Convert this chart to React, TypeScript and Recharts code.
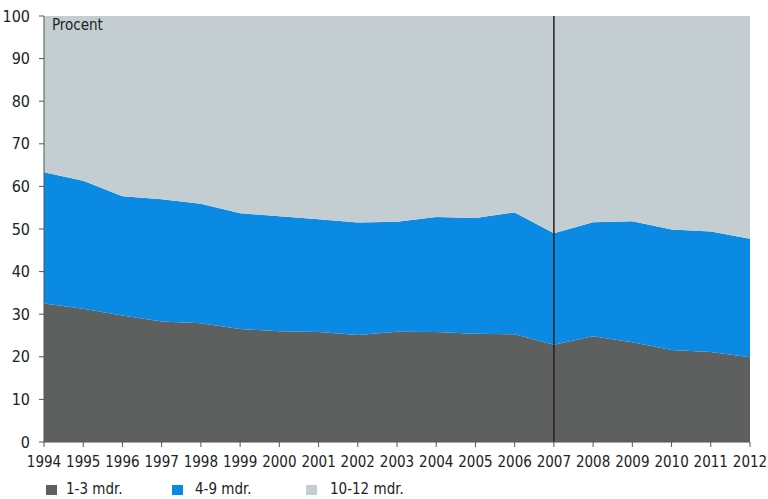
import React from 'react';
import { AreaChart, Area, XAxis, YAxis, ReferenceLine, Legend } from 'recharts';

// years on the x axis
const years = [
  1994, 1995, 1996, 1997, 1998, 1999, 2000, 2001, 2002, 2003,
  2004, 2005, 2006, 2007, 2008, 2009, 2010, 2011, 2012,
];

// share of each group, in percent
const short13 = [32.5, 31.3, 29.7, 28.3, 27.9, 26.5, 26.0, 25.8, 25.1, 25.9, 25.8, 25.4, 25.3, 22.8, 24.8, 23.4, 21.6, 21.1, 19.9];
const mid49 = [30.8, 30.0, 28.0, 28.7, 28.0, 27.2, 27.0, 26.5, 26.4, 25.8, 27.0, 27.2, 28.6, 26.2, 26.8, 28.4, 28.3, 28.3, 27.8];
const long1012 = [36.7, 38.7, 42.3, 43.0, 44.1, 46.3, 47.0, 47.7, 48.5, 48.3, 47.2, 47.4, 46.1, 51.0, 48.4, 48.2, 50.1, 50.6, 52.3];

const yTicks = [0, 10, 20, 30, 40, 50, 60, 70, 80, 90, 100];

const series = [
  { key: 'a', name: '1-3 mdr.', color: '#5e605f', values: short13 },
  { key: 'b', name: '4-9 mdr.', color: '#0a8ae2', values: mid49 },
  { key: 'c', name: '10-12 mdr.', color: '#c4ced2', values: long1012 },
];

const data = years.map((year, i) => ({
  year,
  a: short13[i],
  b: mid49[i],
  c: long1012[i],
}));

const FONT = '"Liberation Sans Narrow", "DejaVu Sans Condensed", sans-serif';

function LegendBox() {
  const pos = [
    { box: 46, text: 66 },
    { box: 172, text: 195 },
    { box: 306, text: 330 },
  ];
  return (
    <div style={{ position: 'relative', height: 20, fontFamily: FONT, fontSize: 15, color: '#222' }}>
      {series.map((s, i) => (
        <React.Fragment key={s.key}>
          <span
            style={{
              position: 'absolute',
              left: pos[i].box,
              top: 6,
              width: 11,
              height: 10,
              background: s.color,
            }}
          />
          <span style={{ position: 'absolute', left: pos[i].text, top: 1 }}>{s.name}</span>
        </React.Fragment>
      ))}
    </div>
  );
}

export default function App() {
  return (
    <div style={{ position: 'absolute', left: 0, top: 0, width: 768, height: 499, background: '#fff' }}>
      <AreaChart
        width={768}
        height={499}
        data={data}
        margin={{ top: 16, right: 18, left: 0, bottom: 7 }}
      >
        <XAxis
          dataKey="year"
          interval={0}
          tickSize={5}
          tickMargin={9}
          stroke="#555"
          tick={{ fill: '#222', fontSize: 15, fontFamily: FONT }}
          height={30}
        />
        <YAxis
          width={44}
          domain={[0, 100]}
          ticks={yTicks}
          allowDataOverflow
          tickSize={5}
          tickMargin={9}
          stroke="#555"
          tick={{ fill: '#222', fontSize: 16, fontFamily: FONT }}
        />
        {series.map((s) => (
          <Area
            key={s.key}
            dataKey={s.key}
            name={s.name}
            stackId="1"
            type="linear"
            stroke="none"
            fill={s.color}
            fillOpacity={1}
            isAnimationActive={false}
          />
        ))}
        <ReferenceLine x={2007} stroke="#222" strokeWidth={1.5} />
        <Legend
          verticalAlign="bottom"
          content={() => <LegendBox />}
          wrapperStyle={{ left: 0, bottom: 0, width: 768 }}
        />
      </AreaChart>
      <div
        style={{
          position: 'absolute',
          left: 52,
          top: 16,
          fontFamily: FONT,
          fontSize: 15,
          color: '#222',
        }}
      >
        Procent
      </div>
    </div>
  );
}
